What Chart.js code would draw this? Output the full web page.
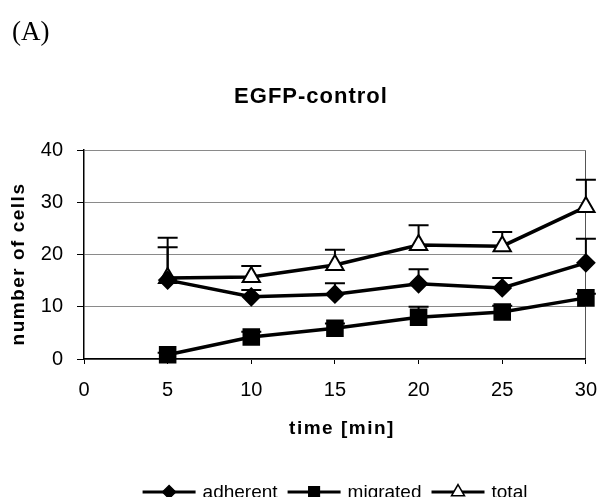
<!DOCTYPE html>
<html>
<head>
<meta charset="utf-8">
<script src="https://cdn.jsdelivr.net/npm/chart.js@4/dist/chart.umd.min.js"></script>
<style>
  html, body { margin: 0; padding: 0; background: #fff; }
  #wrap { width: 611px; height: 497px; }
</style>
</head>
<body>
<div id="wrap"><canvas id="chart" width="611" height="497"></canvas></div>
<script>
// data
const times = [5, 10, 15, 20, 25, 30];
const adherent = [15.1, 11.9, 12.4, 14.4, 13.6, 18.4];
const migrated = [0.8, 4.2, 5.9, 8.0, 9.0, 11.7];
const total = [15.5, 15.7, 18.0, 21.8, 21.6, 29.1];
const adherentErr = [6.3, 1.3, 2.1, 2.8, 1.9, 4.6];
const migratedErr = [0.4, 1.0, 0.9, 2.0, 1.2, 0.8];
const totalErr = [7.7, 2.1, 2.9, 3.8, 2.7, 5.2];
const xTicks = [0, 5, 10, 15, 20, 25, 30];
const yTicks = [0, 10, 20, 30, 40];

const FONT = "'Liberation Sans', Arial, sans-serif";
const errs = [adherentErr, migratedErr, totalErr];

const toPoints = (vals) => vals.map((v, i) => ({ x: times[i], y: v }));

// ── upward error bars, drawn behind the markers
const errorBars = {
  id: "errorBars",
  beforeDatasetsDraw(chart) {
    const { ctx, scales: { x, y } } = chart;
    ctx.save();
    ctx.strokeStyle = "#000";
    ctx.lineWidth = 2;
    chart.data.datasets.forEach((ds, di) => {
      ds.data.forEach((p, i) => {
        const px = x.getPixelForValue(p.x);
        const y0 = y.getPixelForValue(p.y);
        const y1 = y.getPixelForValue(p.y + errs[di][i]);
        ctx.beginPath();
        ctx.moveTo(px, y0);
        ctx.lineTo(px, y1);
        ctx.moveTo(px - 10, y1);
        ctx.lineTo(px + 10, y1);
        ctx.stroke();
      });
    });
    ctx.restore();
  },
};

// ── titles, panel letter and legend
const decorations = {
  id: "decorations",
  afterDraw(chart) {
    const { ctx } = chart;
    ctx.save();
    ctx.fillStyle = "#000";

    ctx.font = "27px 'Liberation Serif', 'Times New Roman', serif";
    ctx.textAlign = "left";
    ctx.textBaseline = "alphabetic";
    ctx.fillText("(A)", 12, 40);

    ctx.textAlign = "center";
    ctx.textBaseline = "middle";
    ctx.letterSpacing = "1px";
    ctx.font = "bold 22px " + FONT;
    ctx.fillText("EGFP-control", 311, 97);

    ctx.letterSpacing = "1.5px";
    ctx.font = "bold 19px " + FONT;
    ctx.fillText("time [min]", 342, 429);

    ctx.save();
    ctx.translate(19, 264);
    ctx.rotate(-Math.PI / 2);
    ctx.fillText("number of cells", 0, 0);
    ctx.restore();

    // legend
    ctx.letterSpacing = "0px";
    ctx.font = "19px " + FONT;
    ctx.textAlign = "left";
    const items = [
      { label: "adherent", style: "rectRot", r: 6.5, fill: "#000" },
      { label: "migrated", style: "rect", r: 7.5, fill: "#000" },
      { label: "total", style: "triangle", r: 7.5, fill: "#fff" },
    ];
    const lineLen = 53, gap = 7, itemGap = 10;
    const widths = items.map((it) => lineLen + gap + ctx.measureText(it.label).width);
    const full = widths.reduce((a, b) => a + b, 0) + itemGap * (items.length - 1);
    let lx = 335 - full / 2;
    const ly = 492;
    items.forEach((it, i) => {
      ctx.strokeStyle = "#000";
      ctx.lineWidth = 3;
      ctx.beginPath();
      ctx.moveTo(lx, ly);
      ctx.lineTo(lx + lineLen, ly);
      ctx.stroke();
      ctx.fillStyle = it.fill;
      ctx.lineWidth = 1.5;
      Chart.helpers.drawPoint(ctx, { pointStyle: it.style, radius: it.r, rotation: 0, borderWidth: 1.5 }, lx + lineLen / 2, ly);
      ctx.fillStyle = "#000";
      ctx.fillText(it.label, lx + lineLen + gap, ly + 1);
      lx += widths[i] + itemGap;
    });
    ctx.restore();
  },
};

const series = [
  { label: "adherent", data: toPoints(adherent), pointStyle: "rectRot", pointRadius: 8.5, bg: "#000" },
  { label: "migrated", data: toPoints(migrated), pointStyle: "rect", pointRadius: 11, bg: "#000" },
  { label: "total", data: toPoints(total), pointStyle: "triangle", pointRadius: 10, bg: "#fff" },
];

new Chart(document.getElementById("chart").getContext("2d"), {
  type: "line",
  data: {
    datasets: series.map((s) => ({
      label: s.label,
      data: s.data,
      borderColor: "#000",
      borderWidth: 3.5,
      pointStyle: s.pointStyle,
      pointRadius: s.pointRadius,
      pointHoverRadius: s.pointRadius,
      pointBackgroundColor: s.bg,
      pointBorderColor: "#000",
      pointBorderWidth: 2,
      tension: 0,
      clip: false,
    })),
  },
  options: {
    responsive: false,
    animation: false,
    events: [],
    layout: { padding: { top: 150, right: 13, left: 0, bottom: 0 } },
    plugins: { legend: { display: false }, tooltip: { enabled: false } },
    scales: {
      x: {
        type: "linear",
        min: 0,
        max: 30,
        afterFit: (s) => { s.height = 138; },
        afterBuildTicks: (s) => { s.ticks = xTicks.map((v) => ({ value: v })); },
        ticks: { color: "#000", padding: 14, font: { family: FONT, size: 20 } },
        grid: {
          color: (c) => (c.tick && c.tick.value === 30 ? "#555" : "transparent"),
          tickColor: "#000",
          tickLength: 5,
          lineWidth: 1,
        },
        border: { color: "#000", width: 1.5 },
      },
      y: {
        min: 0,
        max: 40,
        afterFit: (s) => { s.width = 84; },
        afterBuildTicks: (s) => { s.ticks = yTicks.map((v) => ({ value: v })); },
        ticks: { color: "#000", padding: 14, font: { family: FONT, size: 20 } },
        grid: { color: "#8a8a8a", tickColor: "#000", tickLength: 7, lineWidth: 1 },
        border: { color: "#000", width: 1.5 },
      },
    },
  },
  plugins: [errorBars, decorations],
});
</script>
</body>
</html>
